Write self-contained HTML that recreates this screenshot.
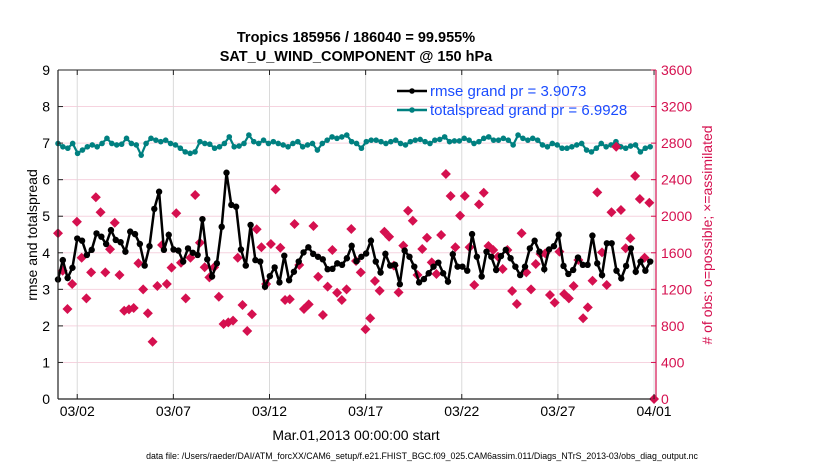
<!DOCTYPE html>
<html><head><meta charset="utf-8"><style>
body{margin:0;background:#fff;}
svg{display:block;font-family:"Liberation Sans",Arial,sans-serif;}
</style></head><body>
<svg id="chart" width="830" height="470" viewBox="0 0 830 470" xmlns="http://www.w3.org/2000/svg">
<text x="356" y="42" text-anchor="middle" font-size="14.5" font-weight="bold">Tropics 185956 / 186040 = 99.955%</text>
<text x="356" y="61" text-anchor="middle" font-size="14.5" font-weight="bold">SAT_U_WIND_COMPONENT @ 150 hPa</text>
<g id="grid"></g>
<g id="marks"></g>
<g id="axes"></g>
<text transform="translate(37,235) rotate(-90)" text-anchor="middle" font-size="14">rmse and totalspread</text>
<text transform="translate(712,235) rotate(-90)" text-anchor="middle" font-size="14" fill="#d5104f"># of obs: o=possible; ×=assimilated</text>
<text x="356" y="440" text-anchor="middle" font-size="14">Mar.01,2013 00:00:00 start</text>
<text x="422" y="459" text-anchor="middle" font-size="8.8">data file: /Users/raeder/DAI/ATM_forcXX/CAM6_setup/f.e21.FHIST_BGC.f09_025.CAM6assim.011/Diags_NTrS_2013-03/obs_diag_output.nc</text>
<g>
<line x1="397" y1="91" x2="427" y2="91" stroke="#000" stroke-width="2.5"/>
<circle cx="412" cy="91" r="2.8" fill="#000"/>
<text x="430" y="96" font-size="15" fill="#1a4cff">rmse grand pr = 3.9073</text>
<line x1="397" y1="110" x2="427" y2="110" stroke="#008080" stroke-width="2.5"/>
<circle cx="412" cy="110" r="2.8" fill="#008080"/>
<text x="430" y="115" font-size="15" fill="#1a4cff">totalspread grand pr = 6.9928</text>
</g>
</svg>
<script>
const xTickLabels=["03/02","03/07","03/12","03/17","03/22","03/27","04/01"];
const xTickDays=[1,6,11,16,21,26,31];
const yLeftTicks=[0,1,2,3,4,5,6,7,8,9];
const yRightTicks=[0,400,800,1200,1600,2000,2400,2800,3200,3600];
const rmse=[3.27,3.80,3.31,3.59,4.39,4.33,3.94,4.08,4.53,4.44,4.24,4.62,4.35,4.29,4.03,4.58,4.51,4.24,3.65,4.18,5.20,5.67,4.08,4.49,4.09,4.06,3.76,4.12,4.00,3.94,4.92,3.82,3.35,3.71,4.71,6.19,5.31,5.26,4.09,3.65,4.76,3.80,3.76,3.07,
3.36,3.60,3.19,3.92,3.25,3.48,3.76,4.01,4.15,3.97,3.89,3.82,3.55,3.56,3.71,3.67,3.85,4.19,3.77,3.89,3.98,4.33,3.76,3.46,3.97,3.65,3.67,3.14,4.06,3.89,3.62,3.19,3.28,3.44,3.62,3.73,3.44,3.21,3.96,3.62,3.62,
3.51,4.51,3.89,3.35,4.03,3.89,3.53,3.91,4.08,3.85,3.62,3.39,3.62,4.12,4.33,4.03,3.55,4.09,4.18,4.49,3.64,3.42,3.53,3.87,3.67,3.67,4.47,3.71,3.39,4.26,4.26,3.51,3.30,3.64,4.12,3.48,3.76,3.51,3.76];
const spread=[6.99,6.90,6.86,6.99,6.72,6.81,6.90,6.95,6.90,6.99,7.13,6.99,6.95,6.97,7.13,6.99,6.95,6.67,6.99,7.13,7.08,7.04,7.08,6.99,6.95,6.86,6.76,6.72,6.76,7.04,6.99,6.97,6.86,6.90,6.99,7.17,6.90,6.92,6.99,7.22,7.04,6.99,
7.08,6.99,7.04,6.99,6.95,6.90,6.99,7.04,6.90,6.95,6.99,6.81,6.99,7.08,7.17,7.13,7.17,7.22,7.04,6.99,6.86,7.04,7.08,7.08,7.04,6.99,7.04,7.08,6.99,6.95,7.04,7.08,7.10,7.04,6.99,7.08,7.10,7.17,7.04,7.06,7.06,
7.13,7.08,6.99,7.04,7.13,7.17,7.08,7.08,7.13,7.08,6.95,7.22,7.13,7.08,7.13,7.08,6.95,6.90,6.99,6.95,6.86,6.86,6.90,6.95,6.99,6.81,6.76,6.86,6.99,6.90,6.95,7.04,6.90,6.86,6.92,6.95,6.76,6.86,6.90];
const obsCount=[1813,1404,985,1258,1940,1546,1101,1386,2207,2043,1386,1638,1929,1357,966,981,996,1485,1200,938,627,1236,1685,1258,1437,2032,1491,1101,1546,2232,1710,1441,1331,1441,1119,821,839,857,1546,1028,744,927,1857,1660,1258,1696,
2294,1655,1083,1091,1915,1466,985,1036,1893,1338,919,1229,1630,1163,1083,1200,1860,1510,1386,763,883,1291,1185,1830,1776,1459,1167,1678,2060,1951,1357,1641,1765,1495,1368,1794,2462,2221,1660,2006,2221,
1660,1247,2130,2257,1674,1630,1557,1422,1630,1182,1039,1813,1386,1200,1477,1586,1593,1138,1054,1612,1149,1101,1236,1521,883,1003,1294,2261,1605,1247,2043,2760,2068,1649,1758,2440,2188,1546,2148,0];
const NS="http://www.w3.org/2000/svg";
const L=58,R=655,T=70,B=399;
const xs=d=>L+(d/31.05)*(R-L);
const yL=v=>B-v/9*(B-T);
const yR=v=>B-v/3600*(B-T);
function mk(tag,attrs,parent){const e=document.createElementNS(NS,tag);for(const k in attrs)e.setAttribute(k,attrs[k]);parent.appendChild(e);return e;}
const grid=document.getElementById('grid'),marks=document.getElementById('marks'),axes=document.getElementById('axes');
const dayOf=(i,n,last)=>i*last/(n-1);
yLeftTicks.forEach(v=>{if(v>0&&v<9){const l=mk('line',{x1:L,x2:R,y1:yL(v),y2:yL(v),stroke:'#f6d3df','stroke-width':1},grid);

}});
xTickDays.forEach(d=>{const l=mk('line',{x1:xs(d),x2:xs(d),y1:T,y2:B,stroke:'#dadada','stroke-width':1},grid);

});
let p=spread.map((v,i)=>xs(dayOf(i,spread.length,30.8)).toFixed(1)+','+yL(v).toFixed(1)).join(' ');
const sl=mk('polyline',{points:p,fill:'none',stroke:'#008080','stroke-width':2.2},marks);


spread.forEach((v,i)=>{const c=mk('circle',{cx:xs(dayOf(i,spread.length,30.8)),cy:yL(v),r:2.8,fill:'#008080'},marks);

});
obsCount.forEach((v,i)=>{const x=xs(dayOf(i,obsCount.length,31)),y=yR(v);
const d=mk('polygon',{points:`${x},${y-5} ${x+5},${y} ${x},${y+5} ${x-5},${y}`,fill:'#d5104f'},marks);

});
p=rmse.map((v,i)=>xs(dayOf(i,rmse.length,30.8)).toFixed(1)+','+yL(v).toFixed(1)).join(' ');
const rl=mk('polyline',{points:p,fill:'none',stroke:'#000','stroke-width':2.5},marks);


rmse.forEach((v,i)=>{const c=mk('circle',{cx:xs(dayOf(i,rmse.length,30.8)),cy:yL(v),r:3.2,fill:'#000'},marks);

});
mk('line',{x1:L,x2:R,y1:T,y2:T,stroke:'#222','stroke-width':1},axes);
mk('line',{x1:L,x2:R,y1:B,y2:B,stroke:'#222','stroke-width':1.2},axes);
mk('line',{x1:L,x2:L,y1:T,y2:B,stroke:'#222','stroke-width':1.2},axes);
mk('line',{x1:R+1,x2:R+1,y1:T,y2:B,stroke:'#d5104f','stroke-width':1.2},axes);
yLeftTicks.forEach(v=>{mk('line',{x1:L,x2:L+5,y1:yL(v),y2:yL(v),stroke:'#222'},axes);
const t=mk('text',{x:L-8,y:yL(v)+5,'text-anchor':'end','font-size':14},axes);t.textContent=v;

});
yRightTicks.forEach(v=>{mk('line',{x1:R+1,x2:R-4,y1:yR(v),y2:yR(v),stroke:'#d5104f'},axes);
const t=mk('text',{x:R+6,y:yR(v)+5,'font-size':14,fill:'#d5104f'},axes);t.textContent=v;

});
xTickDays.forEach((d,i)=>{mk('line',{x1:xs(d),x2:xs(d),y1:B,y2:B-5,stroke:'#222'},axes);
mk('line',{x1:xs(d),x2:xs(d),y1:T,y2:T+5,stroke:'#222'},axes);
const t=mk('text',{x:xs(d),y:B+17,'text-anchor':'middle','font-size':14},axes);t.textContent=xTickLabels[i];

});
</script>
</body></html>
